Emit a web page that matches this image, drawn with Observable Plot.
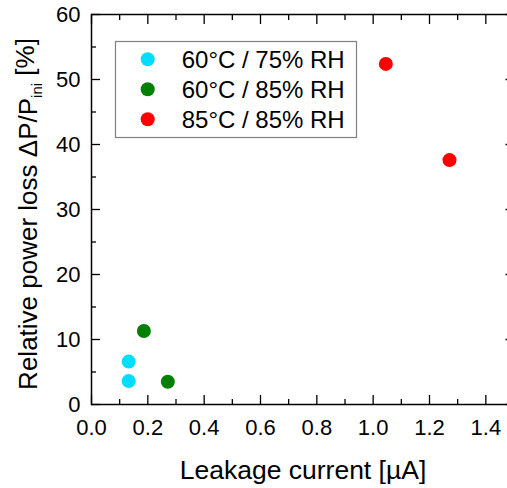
<!DOCTYPE html>
<html><head><meta charset="utf-8">
<script src="https://cdn.jsdelivr.net/npm/d3@7"></script>
<script src="https://cdn.jsdelivr.net/npm/@observablehq/plot@0.6"></script>
<style>body{margin:0;background:#fff;overflow:hidden}#chart svg{overflow:hidden}</style>
</head><body><div id="chart"></div>
<script>
// Series (legend order)
const seriesNames = ["60°C / 75% RH", "60°C / 85% RH", "85°C / 85% RH"];
const seriesColors = ["#00DDFF", "#008000", "#FF0000"];
// Leakage current [µA] and relative power loss [%] per series
const leak_60_75 = [0.132, 0.132];
const loss_60_75 = [6.6, 3.6];
const leak_60_85 = [0.186, 0.271];
const loss_60_85 = [11.3, 3.5];
const leak_85_85 = [1.045, 1.271];
const loss_85_85 = [52.4, 37.6];
// Ticks
const xMajor = [0, 0.2, 0.4, 0.6, 0.8, 1.0, 1.2, 1.4];
const xMinor = [0.1, 0.3, 0.5, 0.7, 0.9, 1.1, 1.3, 1.5];
const yMajor = [0, 10, 20, 30, 40, 50, 60];
const yMinor = [5, 15, 25, 35, 45, 55];
const xLabel = "Leakage current [µA]";
const yLabelMain = "Relative power loss ΔP/P";
const yLabelSub = "ini";
const yLabelEnd = " [%]";

const leaks = [leak_60_75, leak_60_85, leak_85_85];
const losses = [loss_60_75, loss_60_85, loss_85_85];
const data = seriesNames.flatMap((s, i) => leaks[i].map((x, j) => ({series: s, x, y: losses[i][j]})));

const font = "'Liberation Sans', Arial, sans-serif";
const W = 507, H = 488;
const chart = Plot.plot({
  width: W, height: H,
  marginLeft: 91, marginRight: -6.5, marginTop: 14, marginBottom: 84,
  style: {fontFamily: font, fontSize: "22px", color: "black", background: "white"},
  x: {domain: [0, 1.5]},
  y: {domain: [0, 60]},
  color: {domain: seriesNames, range: seriesColors},
  marks: [
    Plot.frame({stroke: "black", strokeWidth: 1.5}),
    Plot.axisX(xMajor, {anchor: "bottom", tickSize: -9, tickPadding: 24, tickFormat: d3.format(".1f"), label: null, strokeWidth: 1.3}),
    Plot.axisX(xMinor, {anchor: "bottom", tickSize: -5, fill: "none", label: null, strokeWidth: 1.3}),
    Plot.axisX(xMajor, {anchor: "top", tickSize: -9, fill: "none", label: null, strokeWidth: 1.3}),
    Plot.axisX(xMinor, {anchor: "top", tickSize: -5, fill: "none", label: null, strokeWidth: 1.3}),
    Plot.axisY(yMajor, {anchor: "left", tickSize: -9, tickPadding: 20, label: null, strokeWidth: 1.3}),
    Plot.axisY(yMinor, {anchor: "left", tickSize: -5, fill: "none", label: null, strokeWidth: 1.3}),
    Plot.axisY(yMajor, {anchor: "right", tickSize: -9, fill: "none", label: null, strokeWidth: 1.3}),
    Plot.axisY(yMinor, {anchor: "right", tickSize: -5, fill: "none", label: null, strokeWidth: 1.3}),
    Plot.dot(data, {x: "x", y: "y", r: 7, fill: "series", stroke: "none"})
  ]
});
document.getElementById("chart").append(chart);

const svg = d3.select(chart);
// Axis titles
svg.append("text")
  .attr("x", 303).attr("y", 479)
  .attr("text-anchor", "middle")
  .style("font-family", font).style("font-size", "26.5px").attr("fill", "black")
  .text(xLabel);
const yl = svg.append("text")
  .attr("transform", "translate(37,214) rotate(-90)")
  .attr("text-anchor", "middle")
  .style("font-family", font).style("font-size", "26px").attr("fill", "black");
yl.append("tspan").text(yLabelMain);
yl.append("tspan").attr("dy", "0.3em").style("font-size", "15px").text(yLabelSub);
yl.append("tspan").attr("dy", "-0.3em").text(yLabelEnd);

// Legend
const lg = svg.append("g");
lg.append("rect").attr("x", 115.5).attr("y", 41.5).attr("width", 241).attr("height", 96)
  .attr("fill", "white").attr("stroke", "#808080").attr("stroke-width", 1.2);
const rows = [59.3, 89.3, 119.3];
seriesNames.forEach((s, i) => {
  lg.append("circle").attr("cx", 147.7).attr("cy", rows[i]).attr("r", 7).attr("fill", seriesColors[i]);
  lg.append("text").attr("x", 181.7).attr("y", rows[i]).attr("dy", "0.36em")
    .attr("text-anchor", "start")
    .style("font-family", font).style("font-size", "24px").attr("fill", "black").text(s);
});
</script>
</body></html>
